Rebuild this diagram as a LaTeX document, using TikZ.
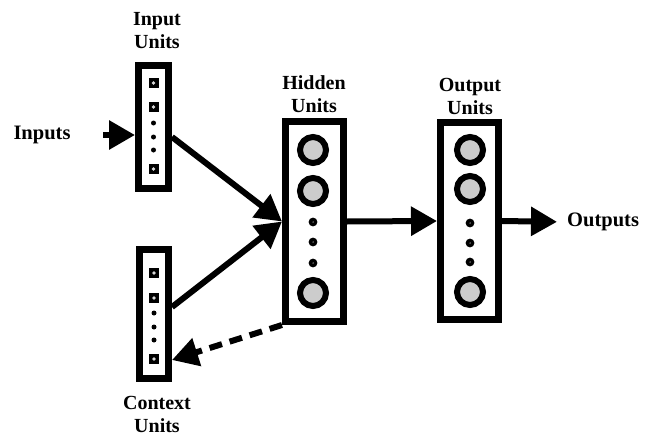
\documentclass[tikz,border=0pt]{standalone}
\usepackage{fontspec}
\setmainfont{Liberation Serif}
\usetikzlibrary{arrows.meta,calc}
\begin{document}
\begin{tikzpicture}[x=1pt,y=-1pt,
  layerbox/.style={draw, line width=7pt, fill=white, inner sep=0pt},
  sq/.style={fill=black, minimum size=10pt, inner sep=0pt,
    path picture={\fill[gray!30] (path picture bounding box.center) circle (1.9pt);}},
  dotu/.style={circle, fill=black, minimum size=5pt, inner sep=0pt},
  bigc/.style={circle, draw, line width=6pt, fill=gray!40, minimum size=26pt, inner sep=0pt},
  smallc/.style={circle, draw, line width=3.5pt, fill=white, minimum size=5pt, inner sep=0pt},
  lbl/.style={font=\bfseries\fontsize{20}{23}\selectfont, align=center, inner sep=0pt},
  io/.style={font=\bfseries\fontsize{20.5}{24}\selectfont, inner sep=0pt},
  arr/.style={line width=6pt, -{Triangle[length=26pt,width=28pt]}}
]
\useasboundingbox (0,0) rectangle (645,436);

% boxes
\node[layerbox, minimum width=30pt, minimum height=123pt] (inbox) at (153.5,127) {};
\node[layerbox, minimum width=29pt, minimum height=129pt] (ctxbox) at (154,314) {};
\node[layerbox, minimum width=58pt, minimum height=200pt] (hid) at (314.5,221.5) {};
\node[layerbox, minimum width=58pt, minimum height=197pt] (outb) at (469.5,221) {};

% labels
\node[lbl] (inlbl) at (157,31) {Input\\Units};
\node[lbl] (ctxlbl) at (157,414) {Context\\Units};
\node[lbl] (hidlbl) at (314,94) {Hidden\\Units};
\node[lbl] (outlbl) at (470,96) {Output\\Units};
\node[io] (inputs) at (42,135) {Inputs};
\node[io, anchor=west] (outputs) at (567,222) {Outputs};

% input units
\node[sq] (i1) at (153.5,83) {};
\node[sq] (i2) at (153.5,107) {};
\node[dotu] (i3) at (153.5,123) {};
\node[dotu] (i4) at (153.5,137) {};
\node[dotu] (i5) at (153.5,150) {};
\node[sq] (i6) at (153.5,169) {};

% context units
\node[sq] (c1) at (154,273) {};
\node[sq] (c2) at (154,298) {};
\node[dotu] (c3) at (154,313) {};
\node[dotu] (c4) at (154,327) {};
\node[dotu] (c5) at (154,340) {};
\node[sq] (c6) at (154,359) {};

% hidden units
\node[bigc] (h1) at (313,150) {};
\node[bigc] (h2) at (313,191) {};
\node[smallc] (h3) at (313,222) {};
\node[smallc] (h4) at (313,242) {};
\node[smallc] (h5) at (313,263) {};
\node[bigc] (h6) at (313,293) {};

% output units
\node[bigc] (o1) at (470,150) {};
\node[bigc] (o2) at (470,189) {};
\node[smallc] (o3) at (470,223) {};
\node[smallc] (o4) at (470,243) {};
\node[smallc] (o5) at (470,262) {};
\node[bigc] (o6) at (470,292) {};

% connectors
\coordinate (instart) at (103,135);
\draw[arr] (instart) -- ($(inbox.west)+(0,8)$);
\draw[arr] ($(inbox.east)+(0,10)$) -- (hid.west);
\draw[arr] ($(ctxbox.east)+(0,-7)$) -- (hid.west);
\draw[arr] (hid.east) -- (outb.west);
\draw[arr, shorten >=10pt] (outb.east) -- (outputs.west);
\draw[arr, dash pattern=on 13pt off 8pt] (hid.south west) -- ($(ctxbox.east)+(0,46)$);
\end{tikzpicture}
\end{document}
